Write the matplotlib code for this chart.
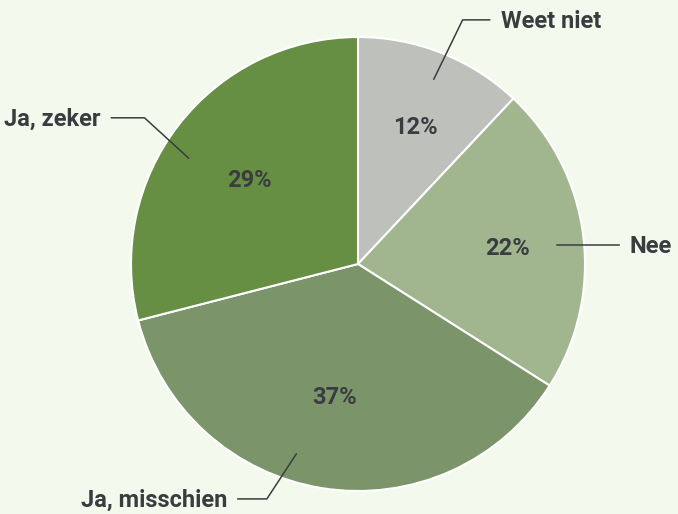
import numpy as np
import matplotlib.pyplot as plt

labels = ['Weet niet', 'Nee', 'Ja, misschien', 'Ja, zeker']
shares = [12, 22, 37, 29]
colors = ['#bdc0bb', '#a1b58f', '#7b946a', '#678f43']

# layout: percent label (radius, angle), connector start angle, elbow (radius, angle), horizontal length
pct_pos = [(0.656, 67.5), (0.665, 6.5), (0.59, -100.1), (0.607, 141.9)]
conn_start = [67.7, 5.6, -108, 148]
conn_elbow = [(1.17, 66.8), (None, None), (1.11, -111.2), (1.14, 145.6)]
line_len = [27, 62, 29, 33]

plt.rcParams['font.family'] = ['Roboto', 'DejaVu Sans']

bg = '#f4f9ee'
txt = '#3a3d40'
fs = 17
fig = plt.figure(figsize=(6.78, 5.14), dpi=100, facecolor=bg)
ax = fig.add_axes([0, 0, 1, 1])
ax.set_facecolor(bg)
ax.axis('off')

cx, cy, R = 358, 250, 227
wedges, texts = ax.pie(shares, colors=colors, startangle=90, counterclock=False,
                       center=(cx, cy), radius=R,
                       wedgeprops=dict(edgecolor='white', linewidth=1.5))
ax.set_xlim(0, 678)
ax.set_ylim(0, 514)
ax.set_aspect('equal')

def pol(r, a):
    return cx + r * R * np.cos(np.radians(a)), cy + r * R * np.sin(np.radians(a))

for i, lab in enumerate(labels):
    px, py = pol(*pct_pos[i])
    ax.text(px, py - 8, f'{shares[i]}%', color=txt, fontsize=fs, fontweight='bold',
            ha='center', va='baseline')

    x0, y0 = pol(0.88, conn_start[i])
    if conn_elbow[i][0] is None:
        x1, y1 = x0, y0
    else:
        x1, y1 = pol(*conn_elbow[i])
    side = 1 if np.cos(np.radians(conn_start[i])) > 0 else -1
    x2 = x1 + side * line_len[i]
    ax.plot([x0, x1, x2], [y0, y1, y1], color=txt, lw=1.1)
    ax.text(x2 + side * 11, y1 - 8, lab, color=txt, fontsize=fs, fontweight='bold',
            ha='left' if side > 0 else 'right', va='baseline')

fig.savefig('out.png', dpi=100, facecolor=bg)
